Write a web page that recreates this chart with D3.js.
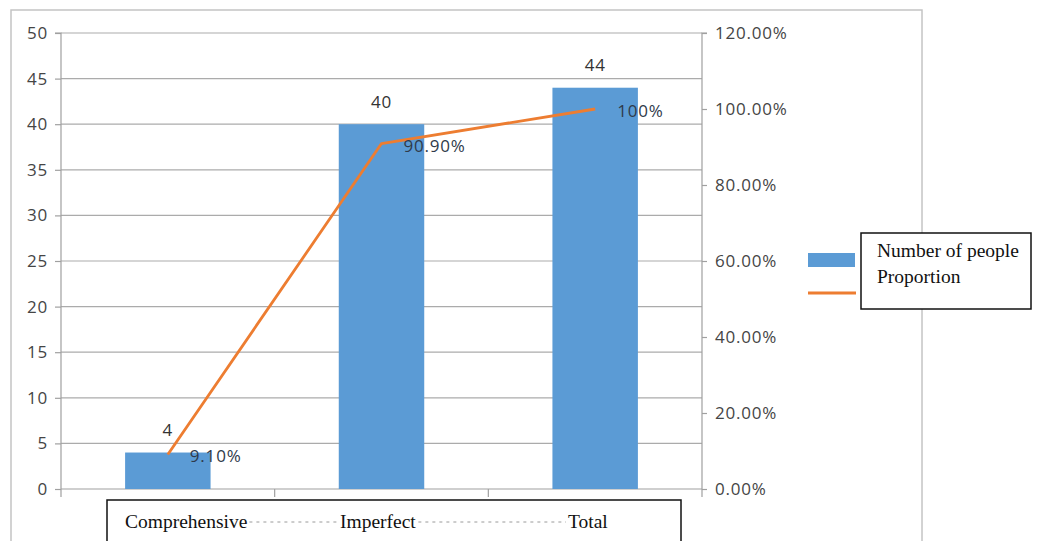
<!DOCTYPE html>
<html>
<head>
<meta charset="utf-8">
<script src="https://cdn.jsdelivr.net/npm/d3@7"></script>
<style>
  html, body { margin: 0; padding: 0; background: #fff; }
  svg { display: block; }
  .num { font-family: "Open Sans", sans-serif; font-size: 17px; letter-spacing: 0.8px; }
  .serif { font-family: "Liberation Serif", "Times New Roman", serif; font-size: 19.5px; fill: #111; }
</style>
</head>
<body>
<svg id="chart" width="1039" height="541"></svg>
<script>
// Survey data: head count per category and cumulative proportion
const categories = ["Comprehensive", "Imperfect", "Total"];
const counts = [4, 40, 44];
const proportions = [0.091, 0.909, 1.0];
const proportionLabels = ["9.10%", "90.90%", "100%"];
const leftTicks = [0, 5, 10, 15, 20, 25, 30, 35, 40, 45, 50];
const rightTicks = [0, 0.2, 0.4, 0.6, 0.8, 1.0, 1.2];
const seriesNames = ["Number of people", "Proportion"];

const svg = d3.select("#chart");
const plot = { left: 61, right: 702, top: 33, bottom: 489 };

const x = d3.scaleBand()
  .domain(categories)
  .range([plot.left, plot.right])
  .paddingInner(0.6)
  .paddingOuter(0.3);
const yLeft = d3.scaleLinear().domain([0, 50]).range([plot.bottom, plot.top]);
const yRight = d3.scaleLinear().domain([0, 1.2]).range([plot.bottom, plot.top]);
const center = c => x(c) + x.bandwidth() / 2;

// outer chart frame
svg.append("rect")
  .attr("x", 11).attr("y", 10).attr("width", 911).attr("height", 545)
  .attr("fill", "none").attr("stroke", "#c4c4c4").attr("stroke-width", 1.5);

// horizontal gridlines
svg.append("g").selectAll("line").data(leftTicks.slice(1)).join("line")
  .attr("x1", plot.left).attr("x2", plot.right)
  .attr("y1", d => yLeft(d)).attr("y2", d => yLeft(d))
  .attr("stroke", "#ababab").attr("stroke-width", 1.2);

// left axis
const gL = svg.append("g").attr("transform", `translate(${plot.left},0)`)
  .call(d3.axisLeft(yLeft).tickValues(leftTicks).tickSize(6).tickPadding(7).tickFormat(d3.format("d")));
gL.select(".domain").attr("stroke", "#a0a0a0").attr("stroke-width", 1.2).attr("d", `M-6,${plot.top}H0V${plot.bottom + 8}`);
gL.selectAll(".tick line").attr("stroke", "#a0a0a0").attr("stroke-width", 1.2);
gL.selectAll(".tick text").attr("class", "num").attr("fill", "#454545");

// right axis
const gR = svg.append("g").attr("transform", `translate(${plot.right},0)`)
  .call(d3.axisRight(yRight).tickValues(rightTicks).tickSize(5).tickPadding(8).tickFormat(d3.format(".2%")));
gR.select(".domain").attr("stroke", "#a0a0a0").attr("stroke-width", 1.2).attr("d", `M5,${plot.top}H0V${plot.bottom + 8}`);
gR.selectAll(".tick line").attr("stroke", "#a0a0a0").attr("stroke-width", 1.2);
gR.selectAll(".tick text").attr("class", "num").attr("fill", "#454545");

// category axis baseline with ticks between categories
const boundaries = d3.range(categories.length + 1).map(i => plot.left + i * x.step());
svg.append("line")
  .attr("x1", plot.left).attr("x2", plot.right)
  .attr("y1", plot.bottom).attr("y2", plot.bottom)
  .attr("stroke", "#a0a0a0").attr("stroke-width", 1.2);
svg.append("g").selectAll("line").data(boundaries.slice(1, -1)).join("line")
  .attr("x1", d => d).attr("x2", d => d)
  .attr("y1", plot.bottom).attr("y2", plot.bottom + 8)
  .attr("stroke", "#a0a0a0").attr("stroke-width", 1.2);

// bars
svg.append("g").selectAll("rect").data(counts).join("rect")
  .attr("x", (d, i) => x(categories[i]))
  .attr("y", d => yLeft(d))
  .attr("width", x.bandwidth())
  .attr("height", d => yLeft(0) - yLeft(d))
  .attr("fill", "#5b9bd5");

// bar value labels
svg.append("g").selectAll("text").data(counts).join("text")
  .attr("class", "num")
  .attr("x", (d, i) => center(categories[i]))
  .attr("y", d => yLeft(d) - 16.5)
  .attr("text-anchor", "middle")
  .attr("fill", "#333")
  .text(d => d);

// proportion line
const line = d3.line()
  .x((d, i) => center(categories[i]))
  .y(d => yRight(d));
svg.append("path").datum(proportions)
  .attr("d", line)
  .attr("fill", "none")
  .attr("stroke", "#ed7d31")
  .attr("stroke-width", 2.8)
  .attr("stroke-linejoin", "round");

// proportion labels
svg.append("g").selectAll("text").data(proportions).join("text")
  .attr("class", "num")
  .attr("x", (d, i) => center(categories[i]) + 22)
  .attr("y", d => yRight(d) + 8)
  .attr("fill", "#2f3a4a")
  .text((d, i) => proportionLabels[i]);

// category label box
const catBox = svg.append("g");
catBox.append("rect")
  .attr("x", 107).attr("y", 500).attr("width", 574).attr("height", 60)
  .attr("fill", "#fff").attr("stroke", "#111").attr("stroke-width", 1.5);
const catX = [125, 340, 568];
const catTexts = catBox.selectAll("text").data(categories).join("text")
  .attr("class", "serif")
  .attr("x", (d, i) => catX[i])
  .attr("y", 528)
  .text(d => d);
const ends = [];
catTexts.each(function (d, i) {
  const b = this.getBBox();
  ends.push([b.x, b.x + b.width]);
});
for (let i = 0; i < ends.length - 1; i++) {
  catBox.append("line")
    .attr("x1", ends[i][1] + 2).attr("x2", ends[i + 1][0] - 2)
    .attr("y1", 522).attr("y2", 522)
    .attr("stroke", "#9a9a9a").attr("stroke-width", 1)
    .attr("stroke-dasharray", "3,4");
}

// legend
const legend = svg.append("g");
legend.append("rect")
  .attr("x", 808).attr("y", 253).attr("width", 47).attr("height", 14)
  .attr("fill", "#5b9bd5");
legend.append("line")
  .attr("x1", 808).attr("x2", 856).attr("y1", 293).attr("y2", 293)
  .attr("stroke", "#ed7d31").attr("stroke-width", 2.8);
legend.append("rect")
  .attr("x", 861).attr("y", 233).attr("width", 170).attr("height", 76)
  .attr("fill", "#fff").attr("stroke", "#111").attr("stroke-width", 1.5);
legend.selectAll("text.entry").data(seriesNames).join("text")
  .attr("class", "serif entry")
  .attr("x", 877)
  .attr("y", (d, i) => 257 + i * 26)
  .text(d => d);
</script>
</body>
</html>
